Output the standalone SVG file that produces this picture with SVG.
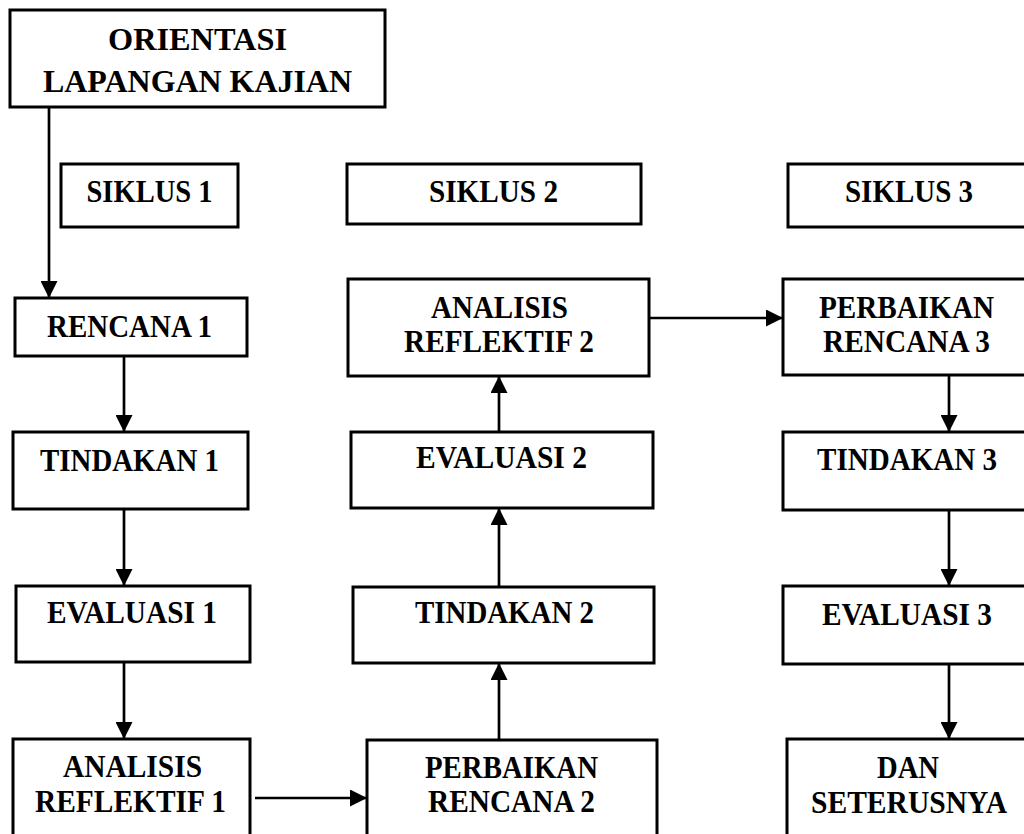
<svg xmlns="http://www.w3.org/2000/svg" width="1024" height="834" viewBox="0 0 1024 834">
<style>
.box{fill:#fff;stroke:#000;stroke-width:3}
.t{font-family:"Liberation Serif","Times New Roman",serif;font-weight:bold;font-size:31px;fill:#000;text-anchor:middle}
.c{stroke:#000;stroke-width:2.7;fill:none}
</style>
<defs>
<marker id="ah" markerUnits="userSpaceOnUse" markerWidth="17" markerHeight="17" refX="16" refY="8" orient="auto" viewBox="0 0 16 16">
<path d="M0,0 L16,8 L0,16 z" fill="#000"/>
</marker>
</defs>
<rect width="1024" height="834" fill="#fff"/>
<g id="connectors">
<line class="c" x1="49" y1="107" x2="49" y2="298" marker-end="url(#ah)"/>
<line class="c" x1="124" y1="356" x2="124" y2="432" marker-end="url(#ah)"/>
<line class="c" x1="124" y1="509" x2="124" y2="586" marker-end="url(#ah)"/>
<line class="c" x1="124" y1="662" x2="124" y2="739" marker-end="url(#ah)"/>
<line class="c" x1="255" y1="798" x2="367" y2="798" marker-end="url(#ah)"/>
<line class="c" x1="499" y1="740" x2="499" y2="663" marker-end="url(#ah)"/>
<line class="c" x1="499" y1="587" x2="499" y2="508" marker-end="url(#ah)"/>
<line class="c" x1="499" y1="432" x2="499" y2="376" marker-end="url(#ah)"/>
<line class="c" x1="649" y1="318" x2="783" y2="318" marker-end="url(#ah)"/>
<line class="c" x1="949" y1="375" x2="949" y2="432" marker-end="url(#ah)"/>
<line class="c" x1="949" y1="510" x2="949" y2="586" marker-end="url(#ah)"/>
<line class="c" x1="949" y1="664" x2="949" y2="739" marker-end="url(#ah)"/>
</g>
<g id="orientasi">
<rect class="box" x="10" y="10" width="375" height="97"/>
<text class="t" x="197.5" y="50" textLength="179" lengthAdjust="spacingAndGlyphs" style="font-size:32px">ORIENTASI</text>
<text class="t" x="197.5" y="92" textLength="309" lengthAdjust="spacingAndGlyphs" style="font-size:32px">LAPANGAN KAJIAN</text>
</g>
<g id="siklus1">
<rect class="box" x="61" y="164" width="177" height="63"/>
<text class="t" x="149.5" y="202" textLength="126" lengthAdjust="spacingAndGlyphs">SIKLUS 1</text>
</g>
<g id="siklus2">
<rect class="box" x="347" y="164" width="294" height="60"/>
<text class="t" x="493.5" y="202" textLength="129" lengthAdjust="spacingAndGlyphs">SIKLUS 2</text>
</g>
<g id="siklus3">
<rect class="box" x="788" y="164" width="246" height="63"/>
<text class="t" x="909" y="202" textLength="128" lengthAdjust="spacingAndGlyphs">SIKLUS 3</text>
</g>
<g id="rencana1">
<rect class="box" x="15" y="298" width="232" height="58"/>
<text class="t" x="129.5" y="337" textLength="165" lengthAdjust="spacingAndGlyphs">RENCANA 1</text>
</g>
<g id="tindakan1">
<rect class="box" x="13" y="432" width="235" height="77"/>
<text class="t" x="129.5" y="471" textLength="179" lengthAdjust="spacingAndGlyphs">TINDAKAN 1</text>
</g>
<g id="evaluasi1">
<rect class="box" x="16" y="586" width="234" height="76"/>
<text class="t" x="132" y="623" textLength="170" lengthAdjust="spacingAndGlyphs">EVALUASI 1</text>
</g>
<g id="analisis1">
<rect class="box" x="13" y="739" width="237" height="111"/>
<text class="t" x="132.5" y="777" textLength="139" lengthAdjust="spacingAndGlyphs">ANALISIS</text>
<text class="t" x="130.5" y="812" textLength="191" lengthAdjust="spacingAndGlyphs">REFLEKTIF 1</text>
</g>
<g id="analisis2">
<rect class="box" x="348" y="279" width="301" height="97"/>
<text class="t" x="499.5" y="318" textLength="137" lengthAdjust="spacingAndGlyphs">ANALISIS</text>
<text class="t" x="499" y="352" textLength="190" lengthAdjust="spacingAndGlyphs">REFLEKTIF 2</text>
</g>
<g id="evaluasi2">
<rect class="box" x="351" y="432" width="302" height="76"/>
<text class="t" x="501.5" y="468" textLength="171" lengthAdjust="spacingAndGlyphs">EVALUASI 2</text>
</g>
<g id="tindakan2">
<rect class="box" x="353" y="587" width="301" height="76"/>
<text class="t" x="504.5" y="623" textLength="179" lengthAdjust="spacingAndGlyphs">TINDAKAN 2</text>
</g>
<g id="perbaikan2">
<rect class="box" x="367" y="740" width="290" height="110"/>
<text class="t" x="511.5" y="778" textLength="173" lengthAdjust="spacingAndGlyphs">PERBAIKAN</text>
<text class="t" x="511.5" y="812" textLength="167" lengthAdjust="spacingAndGlyphs">RENCANA 2</text>
</g>
<g id="perbaikan3">
<rect class="box" x="783" y="279" width="251" height="96"/>
<text class="t" x="906.5" y="318" textLength="175" lengthAdjust="spacingAndGlyphs">PERBAIKAN</text>
<text class="t" x="906.5" y="352" textLength="167" lengthAdjust="spacingAndGlyphs">RENCANA 3</text>
</g>
<g id="tindakan3">
<rect class="box" x="783" y="432" width="251" height="78"/>
<text class="t" x="907" y="470" textLength="180" lengthAdjust="spacingAndGlyphs">TINDAKAN 3</text>
</g>
<g id="evaluasi3">
<rect class="box" x="783" y="586" width="251" height="78"/>
<text class="t" x="907" y="625" textLength="170" lengthAdjust="spacingAndGlyphs">EVALUASI 3</text>
</g>
<g id="seterusnya">
<rect class="box" x="787" y="739" width="247" height="111"/>
<text class="t" x="908" y="778" textLength="62" lengthAdjust="spacingAndGlyphs">DAN</text>
<text class="t" x="909" y="813" textLength="196" lengthAdjust="spacingAndGlyphs">SETERUSNYA</text>
</g>
</svg>
